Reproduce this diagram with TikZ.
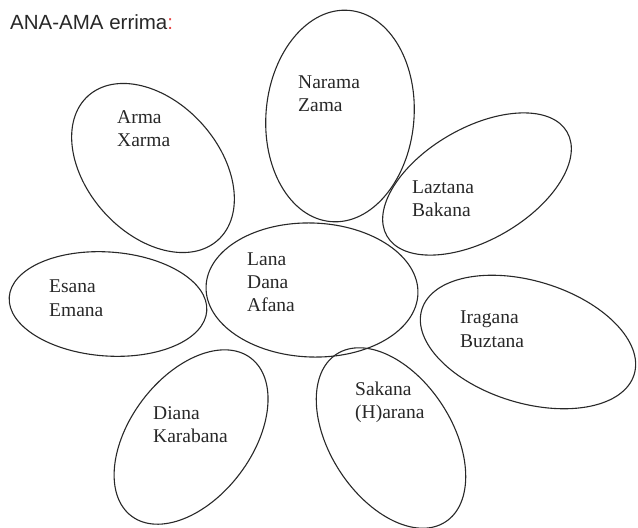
\documentclass[tikz,border=0pt]{standalone}
\usepackage{fontspec}
\setmainfont{Liberation Serif}
\newfontfamily\titlefont{Liberation Sans}
\definecolor{inkgray}{RGB}{40,40,40}
\definecolor{colonred}{RGB}{232,70,70}
\begin{document}
\begin{tikzpicture}[x=1pt,y=-1pt,
  petal/.style={draw=inkgray,line width=1.1pt},
  lbl/.style={anchor=base west,inner sep=0pt,text=inkgray,font=\fontsize{19.5}{23}\selectfont},
  ttl/.style={anchor=base west,inner sep=0pt,text=inkgray,font=\titlefont\fontsize{20.5}{24}\selectfont}]
\useasboundingbox (0,0) rectangle (638,528);
\fill[white] (0,0) rectangle (638,528);
% centres
\coordinate (cN) at (340,116);
\coordinate (cA) at (153,168);
\coordinate (cL) at (477,184);
\coordinate (cC) at (312,290);
\coordinate (cE) at (108,304);
\coordinate (cI) at (528,342);
\coordinate (cD) at (191,437);
\coordinate (cS) at (391,438);
% petals
\draw[petal,rotate around={-5:(cN)}] (cN) ellipse [x radius=74,y radius=106];
\draw[petal,rotate around={-48:(cA)}] (cA) ellipse [x radius=97,y radius=66];
\draw[petal,rotate around={30:(cL)}] (cL) ellipse [x radius=104,y radius=56];
\draw[petal,rotate around={-2:(cC)}] (cC) ellipse [x radius=106,y radius=67];
\draw[petal,rotate around={-4:(cE)}] (cE) ellipse [x radius=99,y radius=52];
\draw[petal,rotate around={-17:(cI)}] (cI) ellipse [x radius=111,y radius=61];
\draw[petal,rotate around={53:(cD)}] (cD) ellipse [x radius=99,y radius=61];
\draw[petal,rotate around={-57:(cS)}] (cS) ellipse [x radius=100,y radius=61];
% title
\node[ttl] (title) at (10,29) {ANA-AMA errima\textcolor{colonred}{:}};
% labels
\node[lbl] (n1) at (298,88) {Narama};
\node[lbl] (n2) at (298,111) {Zama};
\node[lbl] (a1) at (117,123) {Arma};
\node[lbl] (a2) at (117,146) {Xarma};
\node[lbl] (l1) at (412,193) {Laztana};
\node[lbl] (l2) at (412,216) {Bakana};
\node[lbl] (c1) at (247,265) {Lana};
\node[lbl] (c2) at (247,288) {Dana};
\node[lbl] (c3) at (247,311) {Afana};
\node[lbl] (e1) at (49,292) {Esana};
\node[lbl] (e2) at (49,316) {Emana};
\node[lbl] (i1) at (460,323) {Iragana};
\node[lbl] (i2) at (460,347) {Buztana};
\node[lbl] (d1) at (153,419) {Diana};
\node[lbl] (d2) at (153,442) {Karabana};
\node[lbl] (s1) at (355,395) {Sakana};
\node[lbl] (s2) at (355,418) {(H)arana};
\end{tikzpicture}
\end{document}
